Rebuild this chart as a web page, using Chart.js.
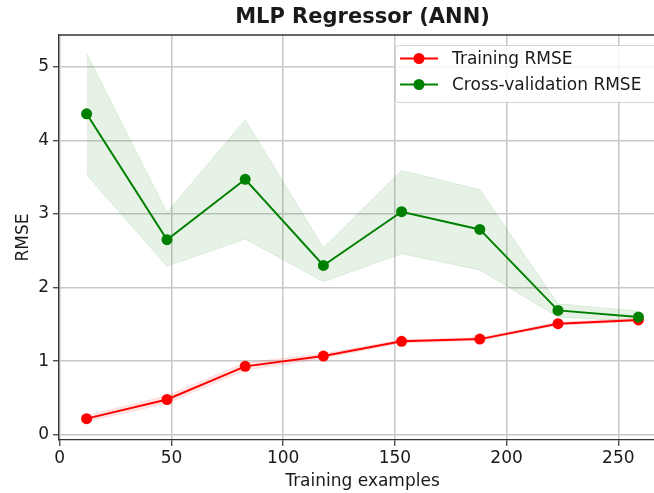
<!DOCTYPE html>
<html>
<head>
<meta charset="utf-8">
<script src="https://cdn.jsdelivr.net/npm/chart.js@4.4.1/dist/chart.umd.min.js"></script>
<style>
  html, body { margin: 0; padding: 0; background: #fff; overflow: hidden; }
  #wrap { position: absolute; left: 0; top: 0; width: 672px; height: 493px; }
</style>
</head>
<body>
<div id="wrap"><canvas id="chart" width="672" height="493"></canvas></div>
<script>
// values
const trainSizes = [12, 48, 83, 118, 153, 188, 223, 259];
const trainMean  = [0.22, 0.48, 0.93, 1.07, 1.27, 1.30, 1.51, 1.56];
const trainUpper = [0.26, 0.53, 0.98, 1.10, 1.29, 1.32, 1.53, 1.58];
const trainLower = [0.18, 0.43, 0.88, 1.04, 1.25, 1.28, 1.49, 1.54];
const cvMean  = [4.36, 2.65, 3.47, 2.30, 3.03, 2.79, 1.69, 1.60];
const cvUpper = [5.18, 3.02, 4.28, 2.54, 3.59, 3.33, 1.78, 1.68];
const cvLower = [3.53, 2.29, 2.66, 2.08, 2.46, 2.24, 1.60, 1.54];
const xTicks = [0, 50, 100, 150, 200, 250];
const yTicks = [0, 1, 2, 3, 4, 5];

const FONT = "'DejaVu Sans', sans-serif";
const TXT = "#1a1a1a";

const pts = (ys) => trainSizes.map((x, i) => ({ x: x, y: ys[i] }));

function line(label, ys, color, order) {
    return {
        label: label, data: pts(ys), borderColor: color, backgroundColor: color,
        borderWidth: 2, pointRadius: 5.5, pointBorderWidth: 0, pointBackgroundColor: color,
        fill: false, tension: 0, order: order, isMain: true
    };
}

function band(ys, fill, edge, order, target) {
    return {
        label: "", data: pts(ys), borderColor: edge, borderWidth: 1, pointRadius: 0,
        backgroundColor: fill, fill: target, tension: 0, order: order
    };
}

// decorations: title, top spine, legend inside the axes
const deco = {
    id: "deco",
    afterDraw(chart) {
        const { ctx, chartArea: a } = chart;
        ctx.save();
        ctx.strokeStyle = "#333";
        ctx.lineWidth = 1.3;
        ctx.beginPath();
        ctx.moveTo(a.left, a.top);
        ctx.lineTo(a.right, a.top);
        ctx.stroke();

        ctx.fillStyle = TXT;
        ctx.font = "bold 21px " + FONT;
        ctx.textAlign = "center";
        ctx.textBaseline = "middle";
        ctx.fillText("MLP Regressor (ANN)", (a.left + a.right) / 2, 18);

        // legend box
        const bx = 395, by = 45, bw = 300, bh = 57;
        ctx.fillStyle = "rgba(255,255,255,0.85)";
        ctx.strokeStyle = "#d4d4d4";
        ctx.lineWidth = 1;
        ctx.beginPath();
        ctx.roundRect(bx + 0.5, by + 0.5, bw, bh, 3);
        ctx.fill();
        ctx.stroke();

        const mains = chart.data.datasets.filter(d => d.isMain);
        ctx.font = "17px " + FONT;
        ctx.textAlign = "left";
        mains.forEach((d, i) => {
            const y = by + 13.5 + i * 26;
            ctx.strokeStyle = d.borderColor;
            ctx.lineWidth = 2;
            ctx.beginPath();
            ctx.moveTo(400, y);
            ctx.lineTo(438, y);
            ctx.stroke();
            ctx.fillStyle = d.borderColor;
            ctx.beginPath();
            ctx.arc(419, y, 5.5, 0, Math.PI * 2);
            ctx.fill();
            ctx.fillStyle = TXT;
            ctx.fillText(d.label, 452, y + 1);
        });
        ctx.restore();
    }
};

new Chart(document.getElementById("chart"), {
    type: "line",
    data: {
        datasets: [
            line("Training RMSE", trainMean, "#ff0000", 1),
            line("Cross-validation RMSE", cvMean, "#008000", 0),
            band(trainUpper, "rgba(255,0,0,0.1)", "rgba(255,0,0,0.1)", 3, 3),
            band(trainLower, "rgba(255,0,0,0.1)", "rgba(255,0,0,0.1)", 3, false),
            band(cvUpper, "rgba(0,128,0,0.1)", "rgba(0,128,0,0.1)", 2, 5),
            band(cvLower, "rgba(0,128,0,0.1)", "rgba(0,128,0,0.1)", 2, false)
        ]
    },
    options: {
        responsive: false,
        animation: false,
        devicePixelRatio: 1,
        layout: { padding: { top: 35, right: 6, left: 0, bottom: 0 } },
        plugins: { legend: { display: false }, title: { display: false }, tooltip: { enabled: false } },
        scales: {
            x: {
                type: "linear", min: -0.35, max: 271.35,
                afterBuildTicks: s => { s.ticks = xTicks.map(v => ({ value: v })); },
                afterFit: s => { s.height = 53; },
                grid: { color: "#c8c8c8", lineWidth: 1.5, tickColor: "#333", tickLength: 6, tickWidth: 1.2 },
                border: { color: "#333", width: 1.3 },
                ticks: { color: TXT, font: { family: FONT, size: 17 }, padding: 2, maxRotation: 0 },
                title: { display: true, text: "Training examples", color: TXT,
                         font: { family: FONT, size: 17 }, padding: { top: 0, bottom: 1 } }
            },
            y: {
                type: "linear", min: -0.07, max: 5.43,
                afterBuildTicks: s => { s.ticks = yTicks.map(v => ({ value: v })); },
                afterFit: s => { s.width = 59; },
                grid: { color: "#c8c8c8", lineWidth: 1.5, tickColor: "#333", tickLength: 6, tickWidth: 1.2 },
                border: { color: "#333", width: 1.3 },
                ticks: { color: TXT, font: { family: FONT, size: 17 }, padding: 4 },
                title: { display: true, text: "RMSE", color: TXT,
                         font: { family: FONT, size: 17 }, padding: { top: 13, bottom: 0 } }
            }
        }
    },
    plugins: [deco]
});
</script>
</body>
</html>
